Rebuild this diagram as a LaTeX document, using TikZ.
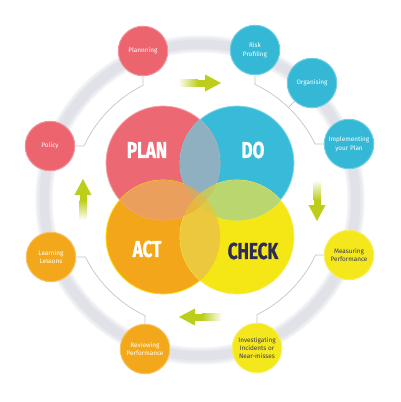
\documentclass[tikz,border=0pt]{standalone}
\usepackage{fontspec}
\setmainfont{Fira Sans}
\newfontfamily\bigfont[FakeStretch=0.74,FakeBold=1.2]{Fira Sans}
\definecolor{cred}{RGB}{236,104,114}
\definecolor{ccyan}{RGB}{56,187,216}
\definecolor{corange}{RGB}{244,166,26}
\definecolor{cyellow}{RGB}{245,230,22}
\definecolor{lensPD}{RGB}{143,176,192}
\definecolor{lensPA}{RGB}{234,160,92}
\definecolor{lensDC}{RGB}{186,214,110}
\definecolor{lensAC}{RGB}{236,200,62}
\definecolor{triPDA}{RGB}{214,168,100}
\definecolor{triPDC}{RGB}{196,200,96}
\definecolor{triPAC}{RGB}{230,182,62}
\definecolor{triDAC}{RGB}{222,202,66}
\definecolor{quad}{RGB}{222,188,76}
\definecolor{nred}{RGB}{235,100,110}
\definecolor{ncyan}{RGB}{52,184,214}
\definecolor{norange}{RGB}{243,168,28}
\definecolor{nyellow}{RGB}{244,232,28}
\definecolor{cgreen}{RGB}{188,206,26}
\definecolor{ringcol}{RGB}{225,226,232}
\definecolor{ringmid}{RGB}{233,234,239}
\definecolor{ringhalo}{RGB}{243,243,246}
\definecolor{linecol}{RGB}{196,196,208}
\definecolor{darktxt}{RGB}{58,56,90}
\definecolor{checktxt}{RGB}{46,43,88}
\tikzset{
  sm/.style={circle, minimum size=49.5pt, inner sep=0pt, align=center,
    font=\fontsize{6.4}{8.4}\selectfont, line width=1pt},
  smred/.style={sm, fill=nred, draw=nred!70, text=white},
  smcyan/.style={sm, fill=ncyan, draw=ncyan!70, text=white},
  smorange/.style={sm, fill=norange, draw=norange!70, text=white},
  smyellow/.style={sm, fill=nyellow, draw=nyellow!70, text=darktxt},
  conn/.style={draw=linecol, line width=0.7pt},
  bigtxt/.style={font=\bigfont\bfseries\fontsize{23}{23}\selectfont, inner sep=0pt},
  arrowhd/.style={fill=cgreen}
}
\begin{document}
\begin{tikzpicture}[x=1pt,y=-1pt]
\useasboundingbox (0,0) rectangle (400,402);
\fill[white] (0,0) rectangle (400,402);
% ring
\draw[ringhalo, line width=17pt] (200,200) circle[radius=156];
\draw[ringmid, line width=13pt] (200,200) circle[radius=156];
\draw[ringcol, line width=9pt] (200,200) circle[radius=156];
% big circles
\fill[cred] (163,163) circle[radius=57];
\fill[ccyan] (237,163) circle[radius=57];
\fill[corange] (163,237) circle[radius=57];
\fill[cyellow] (237,237) circle[radius=57];
\draw[cred!60!white, line width=0.8pt] (163,163) circle[radius=57];
\draw[ccyan!60!white, line width=0.8pt] (237,163) circle[radius=57];
\draw[yellow!80!orange, line width=0.8pt] (163,237) circle[radius=57];
\draw[cyellow!70!white, line width=0.8pt] (237,237) circle[radius=57];
% pairwise lenses
\begin{scope}\clip (163,163) circle[radius=57]; \fill[lensPD] (237,163) circle[radius=57];\end{scope}
\begin{scope}\clip (163,163) circle[radius=57]; \fill[lensPA] (163,237) circle[radius=57];\end{scope}
\begin{scope}\clip (237,163) circle[radius=57]; \fill[lensDC] (237,237) circle[radius=57];\end{scope}
\begin{scope}\clip (163,237) circle[radius=57]; \fill[lensAC] (237,237) circle[radius=57];\end{scope}
% triples
\begin{scope}\clip (163,163) circle[radius=57]; \clip (237,163) circle[radius=57]; \fill[triPDA] (163,237) circle[radius=57];\end{scope}
\begin{scope}\clip (163,163) circle[radius=57]; \clip (237,163) circle[radius=57]; \fill[triPDC] (237,237) circle[radius=57];\end{scope}
\begin{scope}\clip (163,163) circle[radius=57]; \clip (163,237) circle[radius=57]; \fill[triPAC] (237,237) circle[radius=57];\end{scope}
\begin{scope}\clip (237,163) circle[radius=57]; \clip (163,237) circle[radius=57]; \fill[triDAC] (237,237) circle[radius=57];\end{scope}
\begin{scope}\clip (163,163) circle[radius=57]; \clip (237,163) circle[radius=57]; \clip (163,237) circle[radius=57]; \fill[quad] (237,237) circle[radius=57];\end{scope}
% big texts
\node[bigtxt, text=white] (tplan) at (147,150) {PLAN};
\node[bigtxt, text=white] (tdo) at (253,150) {DO};
\node[bigtxt, text=white] (tact) at (147,249) {ACT};
\node[bigtxt, text=checktxt] (tcheck) at (253,251) {CHECK};
% arrows
\shade[left color=white, right color=cgreen] (178,79.5) rectangle (198,86.5);
\fill[cgreen] (197.5,79.5) rectangle (206,86.5);
\fill[arrowhd] (205,74.5) -- (221,83) -- (205,91.5) -- cycle;
\shade[top color=white, bottom color=cgreen] (313.5,180) rectangle (320.5,200);
\fill[cgreen] (313.5,199.5) rectangle (320.5,206);
\fill[arrowhd] (308.5,205) -- (317,221) -- (325.5,205) -- cycle;
\shade[right color=white, left color=cgreen] (202,313.5) rectangle (222,320.5);
\fill[cgreen] (194,313.5) rectangle (202.5,320.5);
\fill[arrowhd] (195,308.5) -- (179,317) -- (195,325.5) -- cycle;
\shade[bottom color=white, top color=cgreen] (79.5,200) rectangle (86.5,220);
\fill[cgreen] (79.5,194) rectangle (86.5,200.5);
\fill[arrowhd] (74.5,195) -- (83,179) -- (91.5,195) -- cycle;
% small nodes
\node[smred] (pln) at (143,51) {Plannning};
\node[smred] (pol) at (50,146) {Policy};
\node[smcyan] (risk) at (255,50) {Risk\\Profiling};
\node[smcyan] (org) at (312,83) {Organising};
\node[smcyan] (imp) at (349,144) {Implementing\\your Plan};
\node[smyellow] (meas) at (349,255) {Measuring\\Performance};
\node[smyellow] (inv) at (257,348) {Investigating\\Incidents or\\Near-misses};
\node[smorange] (rev) at (145,349) {Reviewing\\Performance};
\node[smorange] (learn) at (51,257) {Learning\\Lessons};
% connectors
\begin{scope}[shift={(200,200)}]
\draw[conn] (pol.east) -- plot[domain=204.95:243.55, samples=30] (\x:128) -- (pln.south);
\draw[conn] (risk.south) -- plot[domain=295.44:334.06, samples=30] (\x:128) -- (imp.west);
\coordinate (orgfoot) at (313.75:128);
\draw[conn] (orgfoot) -- (org);
\draw[conn] (meas.west) -- plot[domain=25.44:63.55, samples=30] (\x:128) -- (inv.north);
\draw[conn] (learn.east) -- plot[domain=153.55:115.44, samples=30] (\x:128) -- (rev.north);
\end{scope}
\end{tikzpicture}
\end{document}
